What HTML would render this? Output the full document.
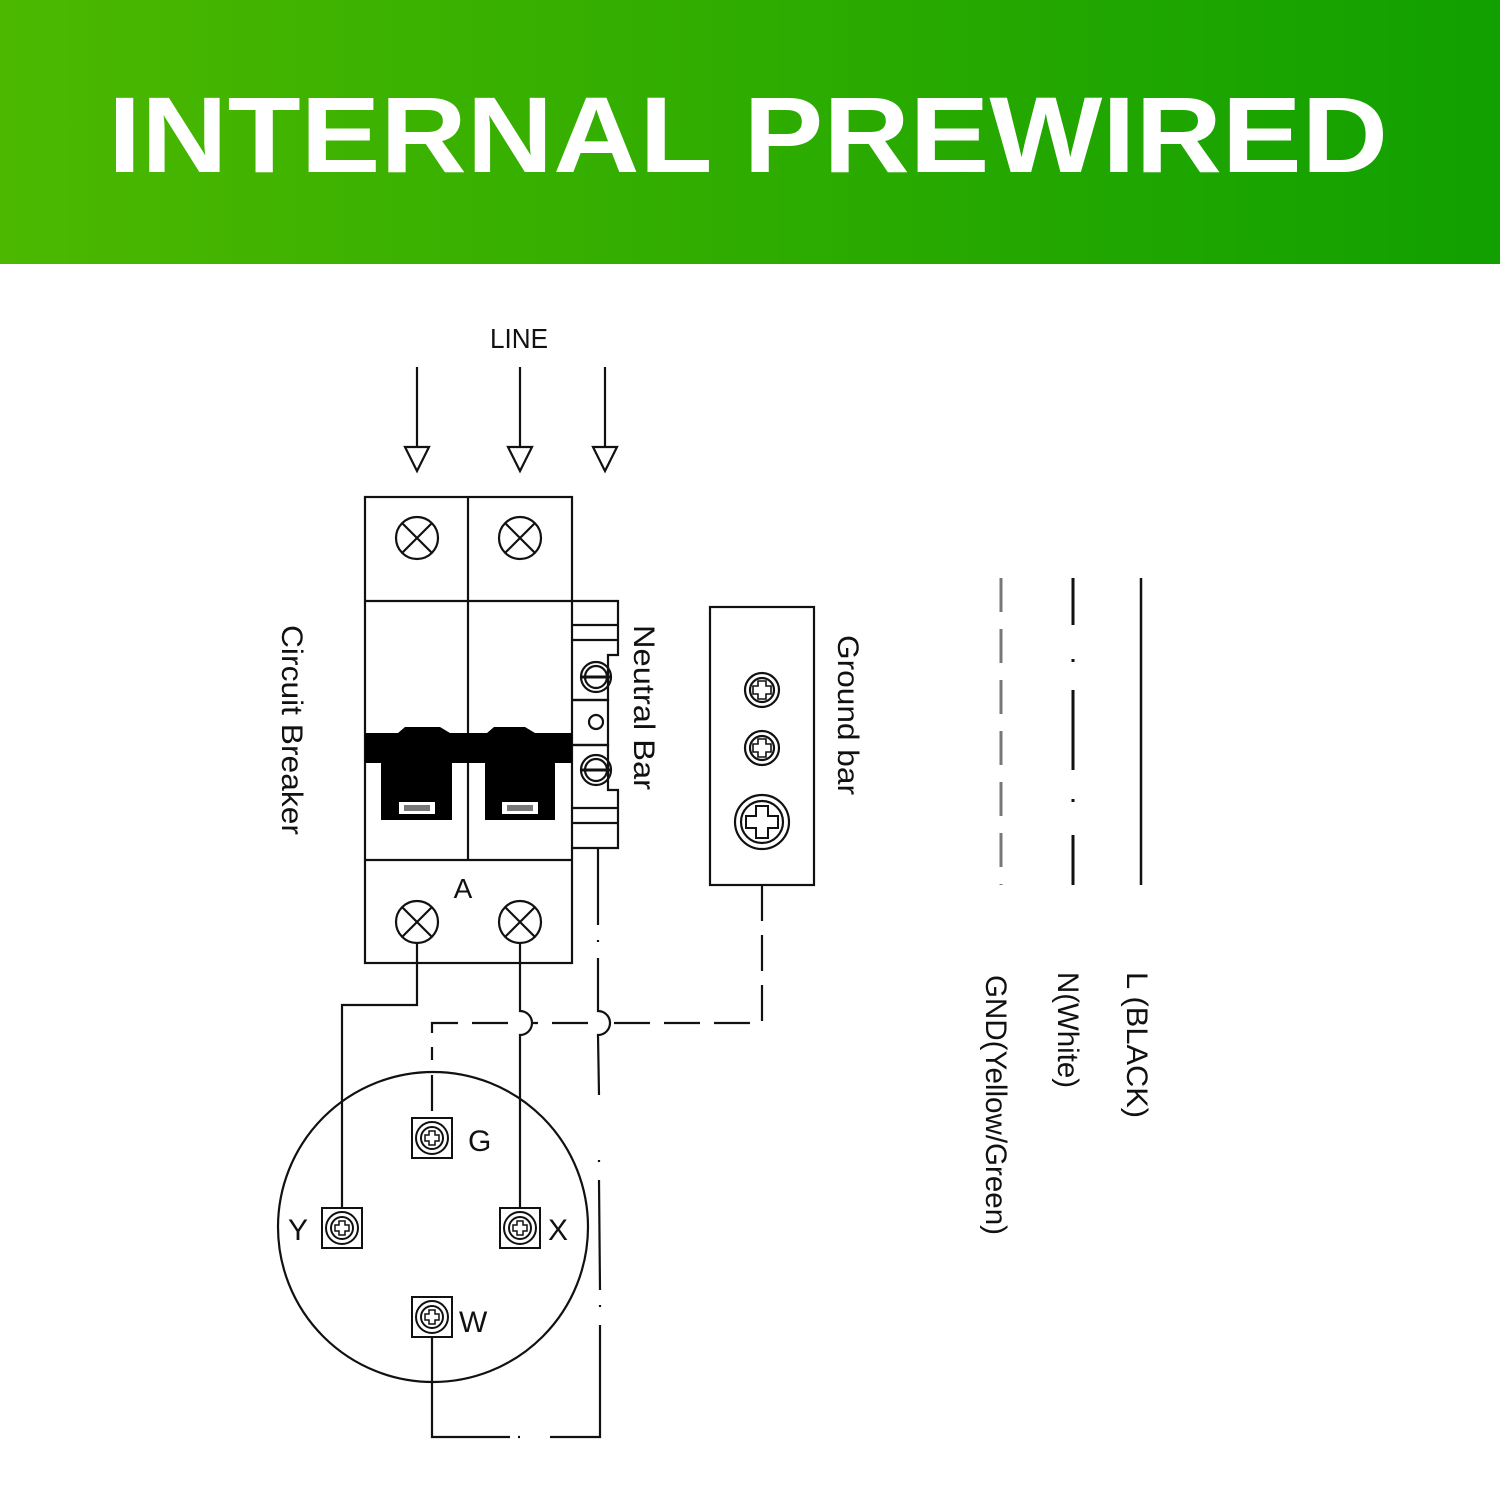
<!DOCTYPE html>
<html><head><meta charset="utf-8"><style>
html,body{margin:0;padding:0;background:#fff}
svg{display:block}
text{font-family:"Liberation Sans",sans-serif;fill:#111}
</style></head><body>
<svg width="1500" height="1500" viewBox="0 0 1500 1500" xmlns="http://www.w3.org/2000/svg">
<defs>
<linearGradient id="g" x1="0" x2="1" y1="0" y2="0"><stop offset="0" stop-color="#4cb800"/><stop offset="1" stop-color="#11a000"/></linearGradient>
</defs>
<rect x="0" y="0" width="1500" height="264" fill="url(#g)"/>
<text x="748" y="172" text-anchor="middle" font-size="108" font-weight="bold" style="fill:#fff" textLength="1280" lengthAdjust="spacingAndGlyphs">INTERNAL PREWIRED</text>

<g stroke="#111" stroke-width="2.2" fill="none">
<line x1="417" y1="367" x2="417" y2="447"/><path d="M405 447 L429 447 L417 471 Z"/>
<line x1="520" y1="367" x2="520" y2="447"/><path d="M508 447 L532 447 L520 471 Z"/>
<line x1="605" y1="367" x2="605" y2="447"/><path d="M593 447 L617 447 L605 471 Z"/>

<rect x="365" y="497" width="207" height="466"/>
<line x1="468" y1="497" x2="468" y2="860"/>
<line x1="365" y1="601" x2="572" y2="601"/>
<line x1="365" y1="860" x2="572" y2="860"/>
<circle cx="417" cy="538" r="21"/><path d="M402 523 L432 553 M432 523 L402 553"/>
<circle cx="520" cy="538" r="21"/><path d="M505 523 L535 553 M535 523 L505 553"/>
<circle cx="417" cy="922" r="21"/><path d="M402 907 L432 937 M432 907 L402 937"/>
<circle cx="520" cy="922" r="21"/><path d="M505 907 L535 937 M535 907 L505 937"/>

<path d="M572 601 L618 601 L618 655 L608 655 L608 700 L572 700"/>
<line x1="572" y1="625" x2="618" y2="625"/><line x1="572" y1="640" x2="618" y2="640"/>
<path d="M572 700 L608 700 L608 745 L572 745"/>
<path d="M572 745 L608 745 L608 790 L618 790 L618 848 L572 848"/>
<line x1="572" y1="808" x2="618" y2="808"/><line x1="572" y1="823" x2="618" y2="823"/>
<circle cx="596" cy="677" r="15"/><circle cx="596" cy="677" r="11"/><line x1="582" y1="677" x2="610" y2="677" stroke-width="3"/>
<circle cx="596" cy="770" r="15"/><circle cx="596" cy="770" r="11"/><line x1="582" y1="770" x2="610" y2="770" stroke-width="3"/>
<circle cx="596" cy="722" r="7"/>

<rect x="710" y="607" width="104" height="278"/>
<circle cx="762" cy="690" r="17"/><circle cx="762" cy="690" r="12"/><path d="M758 681 h8 v5 h5 v8 h-5 v5 h-8 v-5 h-5 v-8 h5 z" stroke-width="1.6"/>
<circle cx="762" cy="748" r="17"/><circle cx="762" cy="748" r="12"/><path d="M758 739 h8 v5 h5 v8 h-5 v5 h-8 v-5 h-5 v-8 h5 z" stroke-width="1.6"/>
<circle cx="762" cy="822" r="27"/><circle cx="762" cy="822" r="21"/><path d="M756 806 h12 v10 h10 v12 h-10 v10 h-12 v-10 h-10 v-12 h10 z" stroke-width="2"/>

<path d="M417 943 L417 1005 L342 1005 L342 1208"/>
<path d="M520 943 L520 1011 A12 12 0 0 1 520 1035 L520 1208"/>
<path d="M762 885 L762 1023 L612 1023 M588 1023 L532 1023 M508 1023 L432 1023 L432 1060 M432 1075 L432 1118" stroke-dasharray="36 14"/>
<path d="M598 848 L598 925 M598 940 L598 942 M598 958 L598 1011 A12 12 0 0 1 598 1035 L599 1095 M599 1160 L599 1162 M599 1180 L600 1290 M600 1305 L600 1307 M600 1325 L600 1437 L550 1437 M520 1437 L518 1437 M510 1437 L432 1437 L432 1336"/>

<circle cx="433" cy="1227" r="155"/>
</g>

<g stroke="#111" stroke-width="2" fill="#fff">
<rect x="412" y="1118" width="40" height="40"/><circle cx="432" cy="1138" r="16"/><circle cx="432" cy="1138" r="11"/>
<rect x="322" y="1208" width="40" height="40"/><circle cx="342" cy="1228" r="16"/><circle cx="342" cy="1228" r="11"/>
<rect x="500" y="1208" width="40" height="40"/><circle cx="520" cy="1228" r="16"/><circle cx="520" cy="1228" r="11"/>
<rect x="412" y="1297" width="40" height="40"/><circle cx="432" cy="1317" r="16"/><circle cx="432" cy="1317" r="11"/>
</g>
<g stroke="#111" stroke-width="1.5" fill="none">
<path d="M429 1131 h6 v4 h4 v6 h-4 v4 h-6 v-4 h-4 v-6 h4 z"/>
<path d="M339 1221 h6 v4 h4 v6 h-4 v4 h-6 v-4 h-4 v-6 h4 z"/>
<path d="M517 1221 h6 v4 h4 v6 h-4 v4 h-6 v-4 h-4 v-6 h4 z"/>
<path d="M429 1310 h6 v4 h4 v6 h-4 v4 h-6 v-4 h-4 v-6 h4 z"/>
</g>

<g fill="#000">
<path d="M365 733 L398 733 L405 727 L440 727 L450 733 L487 733 L494 727 L525 727 L535 733 L572 733 L572 763 L555 763 L555 820 L485 820 L485 763 L452 763 L452 820 L381 820 L381 763 L365 763 Z"/>
</g>
<rect x="399" y="802" width="36" height="12" fill="#fff"/>
<rect x="502" y="802" width="36" height="12" fill="#fff"/>
<rect x="404" y="805" width="26" height="6" fill="#777"/>
<rect x="507" y="805" width="26" height="6" fill="#777"/>

<g stroke-width="3" fill="none">
<line x1="1001" y1="578" x2="1001" y2="885" stroke="#777" stroke-dasharray="34 17"/>
<path d="M1073 578 V625 M1073 659 V662 M1073 690 V770 M1073 799 V802 M1073 835 V885" stroke="#111"/>
<line x1="1141" y1="578" x2="1141" y2="885" stroke="#111" stroke-width="2.5"/>
</g>

<text x="519" y="348" text-anchor="middle" font-size="28" textLength="58" lengthAdjust="spacingAndGlyphs">LINE</text>
<text x="463" y="898" text-anchor="middle" font-size="28">A</text>
<text x="468" y="1151" font-size="30">G</text>
<text x="288" y="1240" font-size="30">Y</text>
<text x="548" y="1240" font-size="30">X</text>
<text x="459" y="1332" font-size="30">W</text>

<text transform="translate(282,625) rotate(90)" font-size="30" textLength="210" lengthAdjust="spacingAndGlyphs">Circuit  Breaker</text>
<text transform="translate(634,625) rotate(90)" font-size="30" textLength="165" lengthAdjust="spacingAndGlyphs">Neutral  Bar</text>
<text transform="translate(838,635) rotate(90)" font-size="30" textLength="160" lengthAdjust="spacingAndGlyphs">Ground  bar</text>
<text transform="translate(1127,972) rotate(90)" font-size="30" textLength="146" lengthAdjust="spacingAndGlyphs">L (BLACK)</text>
<text transform="translate(1058,972) rotate(90)" font-size="30" textLength="116" lengthAdjust="spacingAndGlyphs">N(White)</text>
<text transform="translate(986,975) rotate(90)" font-size="30" textLength="260" lengthAdjust="spacingAndGlyphs">GND(Yellow/Green)</text>
</svg>
</body></html>
